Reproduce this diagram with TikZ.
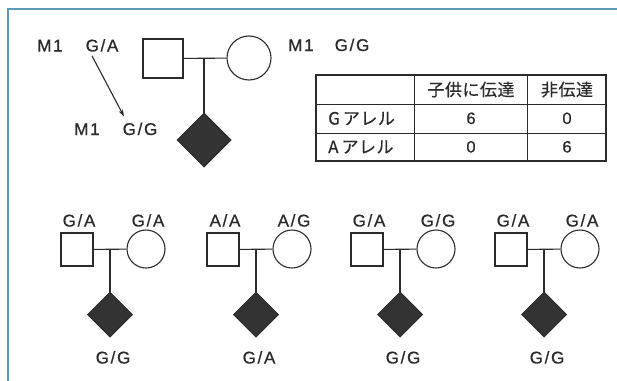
\documentclass[tikz,border=0pt]{standalone}
\usepackage{fontspec}
\setmainfont{Liberation Sans}[LetterSpace=10,FakeBold=0.7]
\newfontfamily\jp{Noto Sans CJK JP}[LetterSpace=3,FakeBold=0.5]
\usetikzlibrary{shapes.geometric,arrows.meta}
\definecolor{ink}{HTML}{2B2B2B}
\definecolor{fill}{HTML}{333333}
\definecolor{frame}{HTML}{5A9DBA}
\tikzset{
  lbl/.style={font=\fontsize{17}{19}\selectfont, text=ink, inner sep=0, anchor=base},
  tlbl/.style={font=\jp\fontsize{17}{19}\selectfont, text=ink, inner sep=0},
  num/.style={font=\fontsize{16.5}{18}\selectfont, text=ink, inner sep=0, anchor=base},
  male/.style={draw=ink, line width=1.1pt, rectangle, inner sep=0},
  female/.style={draw=ink, line width=1.1pt, circle, inner sep=0},
  child/.style={draw=ink, fill=fill, line width=1pt, diamond, aspect=1, inner sep=0},
  rel/.style={draw=ink, line width=1.1pt},
}
\newcommand{\pedg}[5]{%
  \node[male, minimum width=32pt, minimum height=33pt] (s#1) at (#2-33,249.5) {};
  \node[female, minimum size=38pt] (c#1) at (#2+36,249) {};
  \node[child, minimum size=45pt] (d#1) at (#2,314.5) {};
  \coordinate (j#1) at (#2,249);
  \draw[rel] (s#1) -- (c#1);
  \draw[rel] (j#1) -- (d#1.north);
  \node[lbl] (la#1) at (#2-31,226.5) {#3};
  \node[lbl] (lb#1) at (#2+38,226.5) {#4};
  \node[lbl] (lc#1) at (#2+3,363.5) {#5};
}
\begin{document}
\begin{tikzpicture}[x=1pt,y=-1pt]
\useasboundingbox (0,0) rectangle (617,380);
\draw[frame, line width=1.6pt] (617,9) -- (8,9) -- (8,381);

% top pedigree
\node[male, minimum width=40pt, minimum height=39pt] (s0) at (163,58.5) {};
\node[female, minimum size=44pt] (c0) at (249,58) {};
\node[child, minimum size=54pt] (d0) at (204,140) {};
\coordinate (j0) at (204,58);
\draw[rel] (s0) -- (c0);
\draw[rel] (j0) -- (d0.north);

\node[lbl] (m1a) at (50,51.5) {M1};
\node[lbl] (ga) at (102,51.5) {G/A};
\node[lbl] (m1b) at (87,135) {M1};
\node[lbl] (gg) at (140,135) {G/G};
\node[lbl] (m1c) at (301,51) {M1};
\node[lbl] (gg2) at (352,51) {G/G};
\draw[rel, -{Stealth[length=7pt,width=4.5pt]}] ([xshift=-10pt,yshift=-4pt]ga.south) -- ([xshift=-16pt,yshift=6pt]gg.north);

% table
\draw[ink, line width=1.1pt] (316,75) rectangle (606,161);
\draw[ink, line width=1pt] (316,104) -- (606,104) (316,133) -- (606,133)
  (414,75) -- (414,161) (527,75) -- (527,161);
\node[tlbl] (h1) at (471,89.5) {子供に伝達};
\node[tlbl] (h2) at (567,89.5) {非伝達};
\node[tlbl, anchor=west] (r1) at (328,118.5) {G\hspace{3pt}アレル};
\node[tlbl, anchor=west] (r2) at (328,147) {A\hspace{3pt}アレル};
\node[num] (v11) at (471,124) {6};
\node[num] (v12) at (567,124) {0};
\node[num] (v21) at (471,152.5) {0};
\node[num] (v22) at (567,152.5) {6};

% bottom pedigrees
\pedg{1}{110}{G/A}{G/A}{G/G}
\pedg{2}{256}{A/A}{A/G}{G/A}
\pedg{3}{400}{G/A}{G/G}{G/G}
\pedg{4}{544}{G/A}{G/A}{G/G}
\end{tikzpicture}
\end{document}
